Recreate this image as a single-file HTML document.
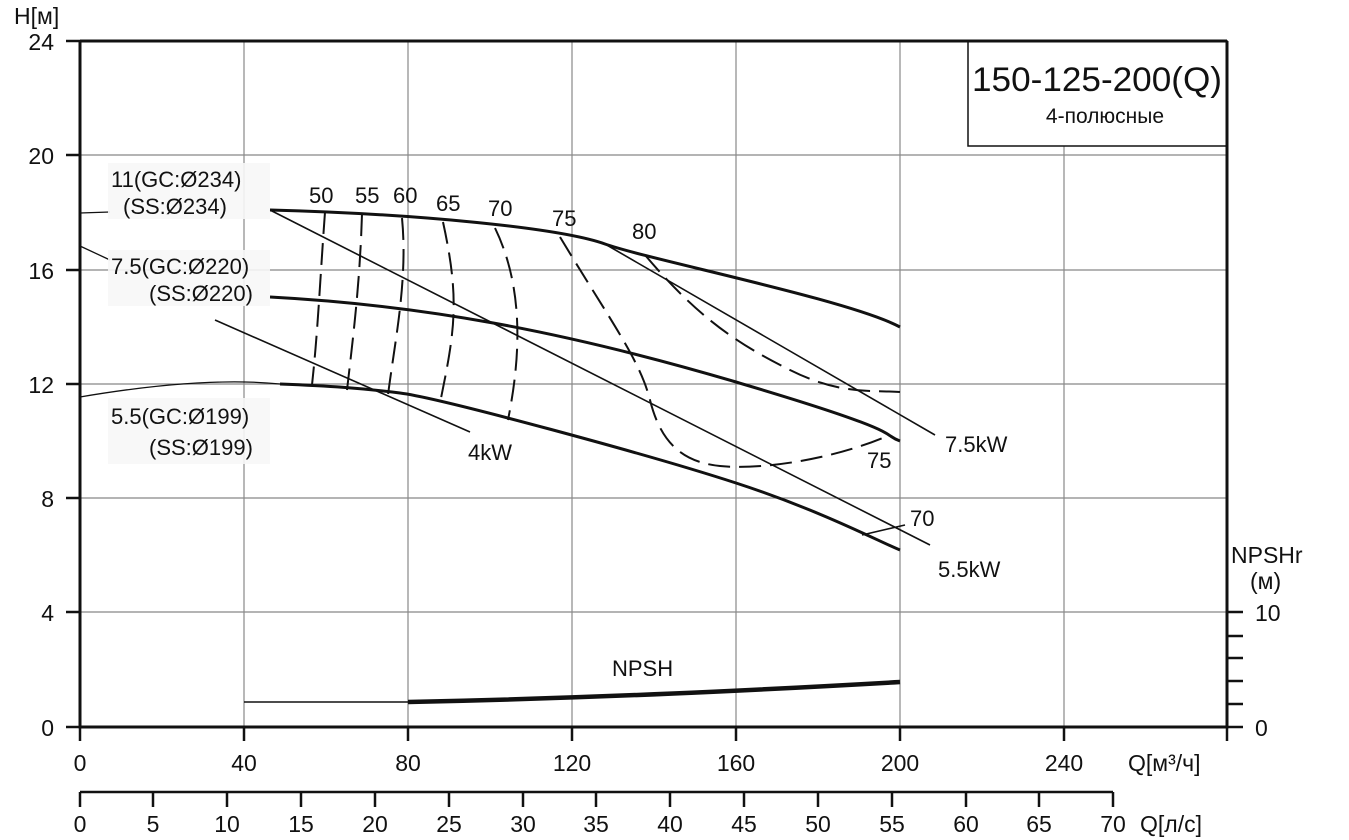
<!DOCTYPE html>
<html><head><meta charset="utf-8"><style>body{margin:0;background:#fff}svg{display:block}text{font-family:"Liberation Sans",sans-serif;fill:#111}</style></head><body>
<svg width="1349" height="840" viewBox="0 0 1349 840">
<g stroke="#888" stroke-width="1.2">
<line x1="244" y1="41" x2="244" y2="727"/><line x1="408" y1="41" x2="408" y2="727"/><line x1="572" y1="41" x2="572" y2="727"/><line x1="736" y1="41" x2="736" y2="727"/><line x1="900" y1="41" x2="900" y2="727"/><line x1="1064" y1="41" x2="1064" y2="727"/>
<line x1="80" y1="155" x2="1227" y2="155"/><line x1="80" y1="270" x2="1227" y2="270"/><line x1="80" y1="384" x2="1227" y2="384"/><line x1="80" y1="498" x2="1227" y2="498"/><line x1="80" y1="612" x2="1227" y2="612"/>
</g>
<rect x="968" y="41" width="259" height="105" fill="#fff" stroke="#111" stroke-width="1.5"/>
<text x="1097" y="91" font-size="34" text-anchor="middle" textLength="250" lengthAdjust="spacingAndGlyphs">150-125-200(Q)</text>
<text x="1105" y="123" font-size="21" text-anchor="middle">4-полюсные</text>
<g stroke="#111" stroke-width="3" fill="none">
<path d="M80 41H1227M80 41V727H1227V41"/>
</g>
<g stroke="#111" stroke-width="2.5">
<line x1="66" y1="41" x2="80" y2="41"/><line x1="66" y1="155" x2="80" y2="155"/><line x1="66" y1="270" x2="80" y2="270"/><line x1="66" y1="384" x2="80" y2="384"/><line x1="66" y1="498" x2="80" y2="498"/><line x1="66" y1="612" x2="80" y2="612"/><line x1="66" y1="727" x2="80" y2="727"/>
<line x1="80" y1="727" x2="80" y2="741"/><line x1="244" y1="727" x2="244" y2="741"/><line x1="408" y1="727" x2="408" y2="741"/><line x1="572" y1="727" x2="572" y2="741"/><line x1="736" y1="727" x2="736" y2="741"/><line x1="900" y1="727" x2="900" y2="741"/><line x1="1064" y1="727" x2="1064" y2="741"/><line x1="1227" y1="727" x2="1227" y2="741"/>
<line x1="1227" y1="612" x2="1243" y2="612"/><line x1="1227" y1="636" x2="1243" y2="636"/><line x1="1227" y1="658" x2="1243" y2="658"/><line x1="1227" y1="681" x2="1243" y2="681"/><line x1="1227" y1="704" x2="1243" y2="704"/><line x1="1227" y1="727" x2="1243" y2="727"/>
<line x1="80" y1="792" x2="1113" y2="792"/>
<line x1="80" y1="792" x2="80" y2="807"/><line x1="153" y1="792" x2="153" y2="807"/><line x1="227" y1="792" x2="227" y2="807"/><line x1="301" y1="792" x2="301" y2="807"/><line x1="375" y1="792" x2="375" y2="807"/><line x1="449" y1="792" x2="449" y2="807"/><line x1="523" y1="792" x2="523" y2="807"/><line x1="596" y1="792" x2="596" y2="807"/><line x1="670" y1="792" x2="670" y2="807"/><line x1="744" y1="792" x2="744" y2="807"/><line x1="818" y1="792" x2="818" y2="807"/><line x1="892" y1="792" x2="892" y2="807"/><line x1="966" y1="792" x2="966" y2="807"/><line x1="1039" y1="792" x2="1039" y2="807"/><line x1="1113" y1="792" x2="1113" y2="807"/>
</g>
<g font-size="23">
<text x="14" y="24">H[м]</text>
<g text-anchor="end"><text x="54" y="50">24</text><text x="54" y="164">20</text><text x="54" y="279">16</text><text x="54" y="393">12</text><text x="54" y="507">8</text><text x="54" y="621">4</text><text x="54" y="736">0</text></g>
<g text-anchor="middle"><text x="80" y="771">0</text><text x="244" y="771">40</text><text x="408" y="771">80</text><text x="572" y="771">120</text><text x="736" y="771">160</text><text x="900" y="771">200</text><text x="1064" y="771">240</text>
<text x="80" y="832">0</text><text x="153" y="832">5</text><text x="227" y="832">10</text><text x="301" y="832">15</text><text x="375" y="832">20</text><text x="449" y="832">25</text><text x="523" y="832">30</text><text x="596" y="832">35</text><text x="670" y="832">40</text><text x="744" y="832">45</text><text x="818" y="832">50</text><text x="892" y="832">55</text><text x="966" y="832">60</text><text x="1039" y="832">65</text><text x="1113" y="832">70</text></g>
<text x="1128" y="771">Q[м³/ч]</text><text x="1140" y="832">Q[л/с]</text>
<text x="1231" y="563">NPSHr</text><text x="1250" y="589">(м)</text><text x="1255" y="621">10</text><text x="1255" y="736">0</text>
</g>
<g fill="none" stroke="#111">
<path d="M80 213L110 212" stroke-width="1.3"/>
<path d="M270 210C420 214 560 228 605 244S850 300 900 327" stroke-width="3"/>
<path d="M80 246L110 260" stroke-width="1.3"/>
<path d="M270 297C420 305 560 330 736 382S880 434 900 441" stroke-width="3"/>
<path d="M80 397C180 380 240 380 280 384" stroke-width="1.3"/>
<path d="M280 384C330 386 360 388 400 393S650 455 736 483S880 542 900 550" stroke-width="3"/>
<path d="M244 702H408" stroke-width="1.5"/>
<path d="M408 702C600 698 760 690 900 682" stroke-width="4.5"/>
<g stroke-width="1.6"><line x1="215" y1="320" x2="470" y2="432"/><line x1="270" y1="210" x2="930" y2="545"/><line x1="605" y1="244" x2="935" y2="435"/><line x1="862" y1="535" x2="905" y2="525"/></g>
<g stroke-width="2" stroke-dasharray="22 9">
<path d="M325 212C320 280 318 330 312 385"/>
<path d="M362 214C360 280 354 330 347 390"/>
<path d="M402 218C408 280 395 340 388 395"/>
<path d="M443 222C460 300 455 330 440 403"/>
<path d="M495 228C525 290 520 360 508 420"/>
<path d="M560 237C610 320 640 360 650 400S680 462 720 466S830 460 885 437"/>
<path d="M645 255C700 320 740 345 790 370S870 390 900 392"/>
</g>
</g>
<rect x="108" y="163" width="162" height="56" fill="#f7f7f7" opacity="0.9"/>
<rect x="108" y="250" width="162" height="56" fill="#f7f7f7" opacity="0.9"/>
<rect x="108" y="398" width="162" height="66" fill="#f7f7f7" opacity="0.9"/>
<g font-size="22">
<text x="111" y="187">11(GC:Ø234)</text><text x="123" y="214">(SS:Ø234)</text>
<text x="111" y="274">7.5(GC:Ø220)</text><text x="149" y="301">(SS:Ø220)</text>
<text x="111" y="424">5.5(GC:Ø199)</text><text x="149" y="455">(SS:Ø199)</text>
<text x="468" y="460">4kW</text><text x="945" y="452">7.5kW</text><text x="938" y="577">5.5kW</text>
<text x="867" y="468">75</text><text x="910" y="526">70</text>
<text x="309" y="203">50</text><text x="355" y="203">55</text><text x="393" y="203">60</text><text x="436" y="211">65</text><text x="488" y="216">70</text><text x="552" y="226">75</text><text x="632" y="239">80</text>
<text x="612" y="676">NPSH</text>
</g>
</svg></body></html>
